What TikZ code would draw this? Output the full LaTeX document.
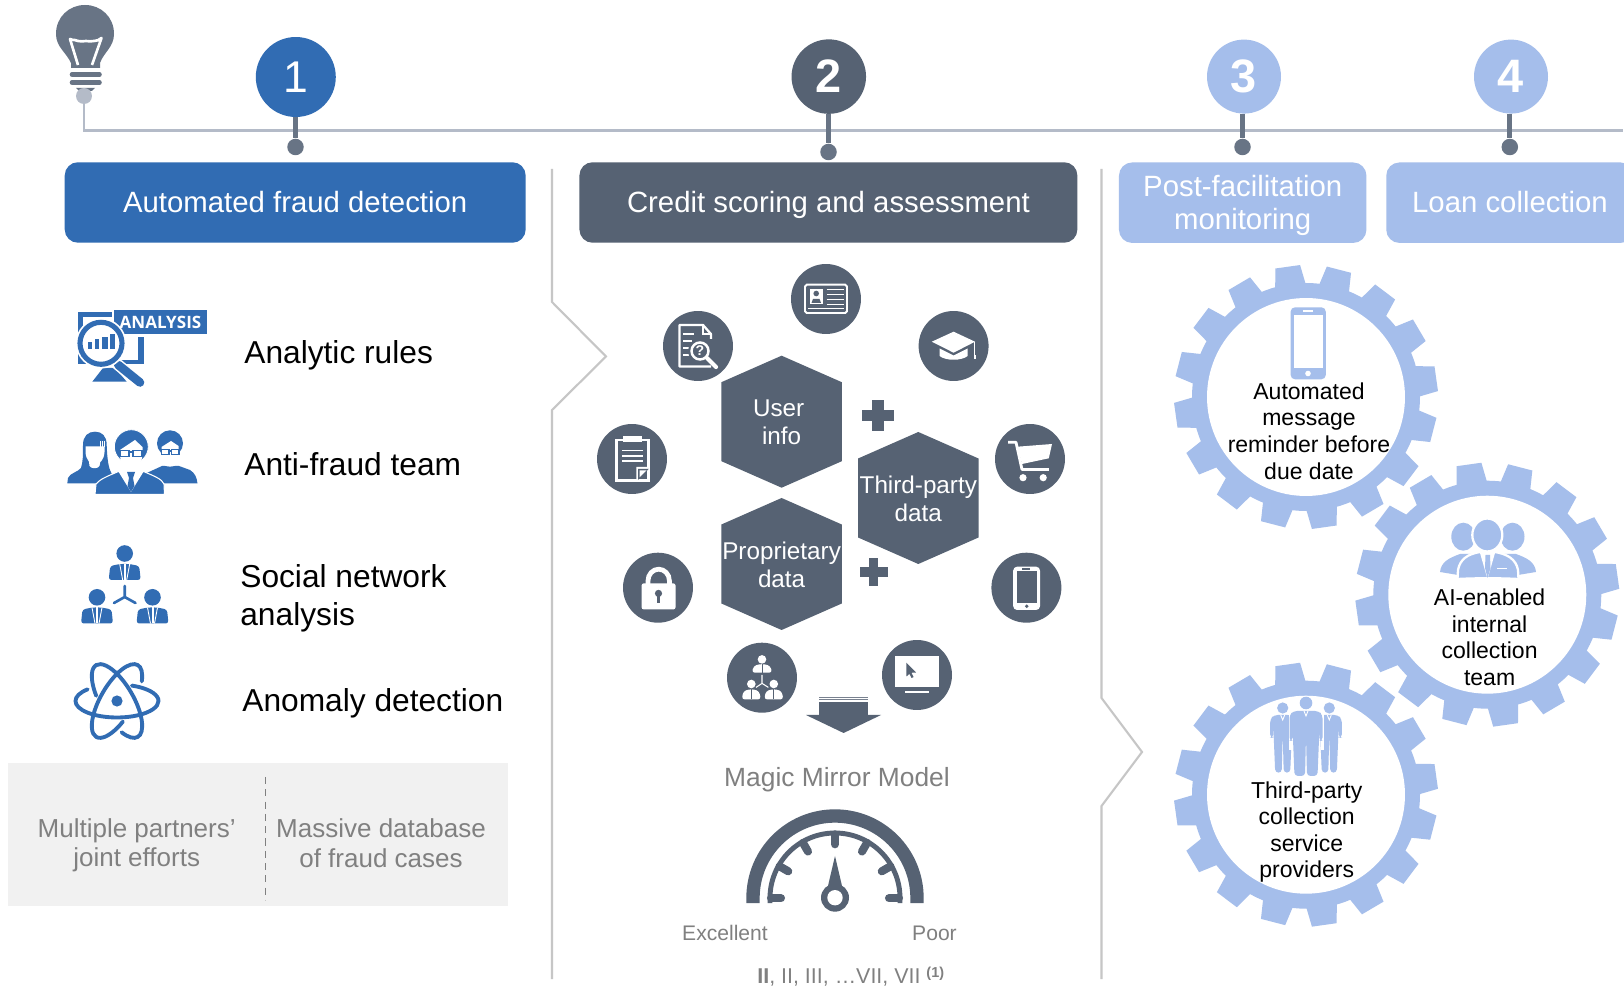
\documentclass[tikz,border=0pt]{standalone}
\usepackage{fontspec}
\setmainfont{Liberation Sans}
\newfontfamily\opensansbf[Scale=1]{Open Sans}
\usetikzlibrary{calc}
\definecolor{cblue}{HTML}{316CB3}
\definecolor{cdark}{HTML}{566273}
\definecolor{clight}{HTML}{A5BEEB}
\definecolor{cstem}{HTML}{687485}
\definecolor{cline}{HTML}{B4BBC8}
\definecolor{cgrey}{HTML}{808080}
\definecolor{cbox}{HTML}{F1F1F1}
\definecolor{cvert}{HTML}{C6C6C6}
\newcommand\fs[2]{\fontsize{#1}{#2}\selectfont}
\tikzset{
  numc/.style={circle,inner sep=0pt,text=white},
  pindot/.style={circle,fill=cstem,minimum size=0.33cm,inner sep=0pt},
  stemline/.style={draw=cstem,line width=2.9pt},
  hdr/.style={rectangle,rounded corners=7.5pt,inner sep=0pt,text=white,align=center,minimum height=1.61cm,font=\fs{16.7}{19}},
  hdrone/.style={hdr,text height=11.6pt,text depth=0pt},
  item/.style={anchor=base west,inner sep=0pt,font=\fs{18.05}{21.2},text=black,align=left},
  greytxt/.style={inner sep=0pt,align=center,text=cgrey,font=\fs{14.8}{16.8}},
  hextxt/.style={inner sep=0pt,align=center,text=white,font=\fs{13.8}{16}},
  geartxt/.style={inner sep=0pt,align=center,text=black,font=\fs{13.1}{15.1}},
  iconc/.style={circle,fill=cdark,minimum size=1.4cm,inner sep=0pt},
  wline/.style={draw=white,line width=1.1pt},
  vrule/.style={draw=cvert,line width=1.2pt},
}
% white or blue business person seen as bust
\newcommand\orgman[7]{% cx, head cy, r, top, bottom, halfwidth, colour
  \fill[#7] (#1,#2) circle[radius=#3];
  \fill[#7,rounded corners=1.6pt] ({#1-#6},#5) -- ({#1-#6+1.5},{#4+2}) -- ({#1-#6*0.3},#4) -- ({#1+#6*0.3},#4) -- ({#1+#6-1.5},{#4+2}) -- ({#1+#6},#5) -- cycle;
}
\newcommand\gearwheel[3]{% name, cx, cy
  \fill[clight] (#2,#3) circle[radius=114];
  \foreach \k in {0,...,15}{
    \pgfmathsetmacro\tang{98+22.5*\k}
    \begin{scope}[shift={(#2,#3)},rotate=\tang]
      \fill[clight] (111,-15.5) -- (131.5,-12.5) -- (131.5,12.5) -- (111,15.5) -- cycle;
    \end{scope}
  }
  \node[circle,fill=white,minimum size=3.96cm,inner sep=0pt] (#1) at (#2,#3) {};
}
\newcommand\hexa[4]{% name, cx, cy, text
  \fill[cdark] (#2,{#3-66}) -- ({#2+60.2},{#3-39.5}) -- ({#2+60.2},{#3+39.5}) -- (#2,{#3+66}) -- ({#2-60.2},{#3+39.5}) -- ({#2-60.2},{#3-39.5}) -- cycle;
  \node[hextxt] (#1) at (#2,{#3+1}) {#4};
}
\newcommand\suitman[7]{% cx, head cy, r, shoulder y, leg bottom, halfwidth, hip y
  \fill[clight] (#1,#2) circle[radius=#3];
  \fill[clight,rounded corners=2pt] ({#1-#6},#7) -- ({#1-#6},{#4+4}) -- ({#1-#6+4},#4) -- ({#1+#6-4},#4) -- ({#1+#6},{#4+4}) -- ({#1+#6},#7) -- ({#1+#6-3},#7) -- ({#1+#6-3},{#7-14}) -- ({#1+#6-5},#5) -- ({#1+1},#5) -- (#1,{#7-5}) -- ({#1-1},#5) -- ({#1-#6+5},#5) -- ({#1-#6+3},{#7-14}) -- ({#1-#6+3},#7) -- cycle;
  \draw[white,line width=0.5pt] ({#1-2},#4) -- (#1,{#4+5}) -- ({#1+2},#4);
}
\begin{document}
\begin{tikzpicture}[x=0.02cm,y=-0.02cm]
\clip (0,0) rectangle (1624,989);
\fill[white] (0,0) rectangle (1624,989);

% ---------- separators
\coordinate (va) at (552,169); \coordinate (vb) at (552,302); \coordinate (vc) at (606,356.5);
\coordinate (vd) at (552,410); \coordinate (ve) at (552,979);
\draw[vrule] (va) -- (vb) -- (vc) -- (vd) -- (ve);
\coordinate (wa) at (1101.5,169); \coordinate (wb) at (1101.5,698); \coordinate (wc) at (1142,752);
\coordinate (wd) at (1101.5,806); \coordinate (we) at (1101.5,979);
\draw[vrule] (wa) -- (wb) -- (wc) -- (wd) -- (we);

% ---------- bulb
\fill[cstem] (71,68) -- (71,63) .. controls (66,52) and (56,47) .. (56,34) .. controls (56,17) and (69,5) .. (85,5) .. controls (101,5) and (114,17) .. (114,34) .. controls (114,47) and (104,52) .. (100,63) -- (100,68) -- cycle;
\draw[white,line width=1.5pt,line join=round] (78,65) -- (70,39) .. controls (74,41) and (76,39) .. (78,41) .. controls (81,43) and (83,40) .. (86,41) .. controls (89,43) and (91,40) .. (94,41) .. controls (97,41) and (99,40) .. (101.5,38) -- (92,65);
\draw[cstem,line width=2.6pt,line cap=round] (72,74.5) -- (99.5,74.5);
\draw[cstem,line width=2.6pt,line cap=round] (72,82.5) -- (99.5,82.5);
\fill[cstem] (76,88) -- (95,88) -- (92,91) -- (79,91) -- cycle;

% ---------- timeline
\node[circle,fill=cline,minimum size=0.32cm,inner sep=0pt] (tl0) at (84,96) {};
\coordinate (tlc) at (84,130.5);
\coordinate (tle) at (1623,130.5);
\draw[cline,line width=1.7pt] (tl0) -- (tlc) -- (tle);

% ---------- numbered pins
\node[numc,fill=cblue,minimum size=1.6cm,font=\fs{25.3}{26}] (c1) at (295.8,77) {1};
\node[numc,fill=cdark,minimum size=1.49cm,font=\bfseries\fs{26.7}{27}] (c2) at (828.8,76.6) {2};
\node[numc,fill=clight,minimum size=1.48cm,font=\bfseries\fs{26.7}{27}] (c3) at (1244,76.6) {3};
\node[numc,fill=clight,minimum size=1.48cm,font=\bfseries\fs{26.7}{27}] (c4) at (1511,76.6) {4};
\node[pindot] (d1) at (295.5,147) {};
\node[pindot] (d2) at (828.5,152) {};
\node[pindot] (d3) at (1242.5,147) {};
\node[pindot] (d4) at (1509.8,147) {};
\draw[stemline] (d1 |- c1.south) -- (d1);
\draw[stemline] (d2 |- c2.south) -- (d2);
\draw[stemline] (d3 |- c3.south) -- (d3);
\draw[stemline] (d4 |- c4.south) -- (d4);

% ---------- headers
\node[hdrone,fill=cblue,minimum width=9.22cm] (h1) at (295.2,202.5) {Automated fraud detection};
\node[hdrone,fill=cdark,minimum width=9.96cm] (h2) at (828.4,202.5) {Credit scoring and assessment};
\node[hdr,fill=clight,minimum width=4.95cm] (h3) at (1242.7,202.7) {\rule{0pt}{15.3pt}Post-facilitation\\monitoring};
\node[hdrone,fill=clight,minimum width=4.95cm] (h4) at (1510,202.7) {Loan collection};

% ---------- analysis icon
\fill[cblue] (78.3,311.7) rectangle (111.7,364);
\fill[cblue] (111.7,336.7) rectangle (144,364);
\fill[white] (83.3,316.7) rectangle (138.3,360);
\fill[white] (111.7,311.7) rectangle (114.3,336.7);
\fill[cblue] (138.3,336.7) rectangle (144,364);
\fill[cblue] (92.3,381.7) -- (103,368) -- (115,368) -- (126.7,381.7) -- cycle;
\node[fill=cblue,inner sep=0pt,minimum width=1.85cm,minimum height=0.48cm,text=white,font=\opensansbf\bfseries\fs{9.7}{10}] (anl) at (160.5,322) {ANALYSIS};
\draw[white,line width=6.6pt,line cap=round] (116,363) -- (141,384);
\draw[cblue,line width=4.9pt,line cap=round] (118.3,365) -- (140,382.5);
\fill[white] (101,343.3) circle[radius=25.3];
\draw[cblue,line width=2.9pt] (101,343.3) circle[radius=21];
\fill[cblue] (87.7,342.3) rectangle (92.3,349.3);
\fill[cblue] (94.7,339.3) rectangle (99.3,349.3);
\fill[cblue] (101.7,336.7) rectangle (107.7,349.3);
\fill[cblue] (110,334.3) rectangle (115,349.3);
\node[item] (t1) at (244,363.7) {Analytic rules};

% ---------- team icon
% woman
\fill[cblue] (67.3,483.5) -- (68,478) .. controls (70,473) and (78,472) .. (81,468) .. controls (83,462) and (83,455) .. (83,445) .. controls (83,436) and (88,431.7) .. (95,431.7) .. controls (102,431.7) and (106.7,436) .. (106.7,445) .. controls (107,455) and (108,465) .. (110,470) -- (116,483.5) -- cycle;
\fill[white] (85.5,446.5) -- (104.5,446.5) -- (104.5,452) .. controls (104,460) and (100,464) .. (95,464) .. controls (90,464) and (86,460) .. (85.5,452) -- cycle;
\fill[white] (88.5,458) -- (89.5,466) .. controls (91,469) and (98,469) .. (99.5,466) -- (101,458) -- cycle;
\draw[white,line width=0.4pt] (100,441) -- (100,447) (102,441) -- (102,447) (104,441) -- (104,447);
% right man
\fill[cblue] (146.7,473) -- (162,466) -- (179,466) -- (190,470) .. controls (195,473) and (197,478) .. (197.5,483.5) -- (150,483.5) -- cycle;
\fill[cblue] (170,443.3) circle[radius=13];
\fill[white] (161.5,447) -- (171,441) -- (178.5,446) -- (178.5,453) .. controls (178,460) and (174,463.5) .. (170,463.5) .. controls (166,463.5) and (162,460) .. (161.5,453) -- cycle;
\fill[white] (164,460) -- (176,460) -- (175,465.5) .. controls (172,467) and (168,467) .. (165,465.5) -- cycle;
\draw[cblue,line width=0.7pt] (161.5,449.5) rectangle (169,454.5) (171.5,449.5) rectangle (179,454.5) (169,451) -- (171.5,451);
% centre man
\fill[cblue,draw=white,line width=0.5pt] (131.3,446.7) circle[radius=17];
\fill[white] (120,450) -- (135,440) -- (142.5,447) -- (142.5,456) .. controls (141,464) and (136,468.5) .. (131,468.5) .. controls (126,468.5) and (121,464) .. (120,456) -- cycle;
\draw[cblue,line width=0.9pt] (120,450.5) rectangle (129,456.5) (133,450.5) rectangle (142,456.5) (129,452) -- (133,452);
\fill[cblue,draw=white,line width=0.6pt] (95,494.3) -- (96,484) .. controls (100,479) and (108,476) .. (118,471.7) -- (144,471.7) .. controls (154,476) and (162,479) .. (164,484) -- (164.5,494.3) -- cycle;
\fill[white] (118.5,471.7) -- (131,492) -- (143.5,471.7) -- cycle;
\fill[cblue] (127,472) -- (135,472) -- (133,478) -- (134.5,486) -- (131,492) -- (127.5,486) -- (129,478) -- cycle;
\node[item] (t2) at (244,476) {Anti-fraud team};

% ---------- social network icon
\orgman{124.7}{553.5}{8.3}{564}{580}{16}{cblue}
\orgman{97}{597.3}{8.3}{607.5}{623.5}{16}{cblue}
\orgman{152.5}{597.3}{8.3}{607.5}{623.5}{16}{cblue}
\foreach \q/\r in {124.7/564,97/607.5,152.5/607.5}{\fill[white] (\q-1,\r) -- (\q+1,\r) -- (\q+1,\r+16) -- (\q-1,\r+16) -- cycle;
 \draw[white,line width=0.5pt] (\q-5,\r) -- (\q-2,\r+16) (\q+5,\r) -- (\q+2,\r+16);}
\draw[cblue,line width=1.5pt,line cap=round] (124.7,586) -- (124.7,597) (124.7,597) -- (114,603) (124.7,597) -- (135.5,603);
\node[item,anchor=north west,yshift=-0.1cm] (t3) at (240,559.5) {Social network\\analysis};

% ---------- atom icon
\fill[cblue] (117,701) circle[radius=5.6];
\foreach \rr in {0,120,240}{
  \begin{scope}[shift={(117,701)},rotate=\rr]
    \draw[cblue,line width=2.2pt,line cap=round] (-135:41.5 and 16.5) arc[start angle=-135,end angle=-429,x radius=41.5,y radius=16.5];
  \end{scope}
}
\node[item] (t4) at (242,711.7) {Anomaly detection};

% ---------- grey box
\fill[cbox] (8,763) rectangle (508,906);
\coordinate (da) at (265.5,777); \coordinate (db) at (265.5,900);
\draw[cgrey,line width=0.9pt,dash pattern=on 4pt off 3pt] (da) -- (db);
\node[greytxt] (g1) at (136.7,845.3) {Multiple partners’\\joint efforts};
\node[greytxt] (g2) at (381,843) {Massive database\\of fraud cases};

% ---------- hexagons
\hexa{hx1}{781.6}{421.7}{\mbox{User\hspace{3.4pt}}\\info}
\hexa{hx2}{781.6}{564}{Proprietary\\data}
\hexa{hx3}{918.3}{498}{Third-party\\data}
\fill[cdark] (872.3,400) rectangle (883.7,431.5);
\fill[cdark] (862,410) rectangle (894,421.5);
\fill[cdark] (869,558) rectangle (878.2,586);
\fill[cdark] (859.6,567.5) rectangle (887.6,577);

% ---------- icon circles
\node[iconc] (ic1) at (826,299) {};
\begin{scope}[shift={(ic1)}]
  \draw[wline,rounded corners=1pt] (-21,-14.3) rectangle (21,14);
  \fill[white] (-16.5,-10.3) rectangle (-3.2,4.7);
  \fill[cdark] (-9.8,-5.5) circle[radius=2.8];
  \fill[cdark] (-14.5,3.8) -- (-13,0) -- (-6.5,0) -- (-5,3.8) -- cycle;
  \foreach \l in {-9.3,-4.3,0.7,5.7}{\draw[white,line width=0.7pt] (0.7,\l) -- (17.5,\l);}
  \draw[white,line width=0.7pt] (-18,9.5) -- (17.5,9.5);
\end{scope}
\node[iconc] (ic2) at (698,346) {};
\begin{scope}[shift={(ic2)}]
  \draw[white,line width=1.3pt,line join=round] (-16,20.5) -- (-18.6,20.5) -- (-18.6,-21) -- (5,-21) -- (12.9,-12) -- (12.9,-7) (-18.6,20.5) -- (13,20.5);
  \draw[white,line width=0.7pt] (5,-21) -- (5,-12) -- (12.9,-12);
  \foreach \l/\m in {-12/-4,-5/-6,2/-8,9/-8}{\draw[white,line width=1.3pt] (-15,\l) -- (\m,\l);}
  \fill[cdark] (2,5) circle[radius=12];
  \draw[white,line width=1.4pt] (2,5) circle[radius=8.5];
  \draw[white,line width=2.4pt,line cap=round] (9,12) -- (18,21);
  \node[inner sep=0pt,text=white,font=\bfseries\fs{8}{9}] (qm) at (2,5) {?};
\end{scope}
\node[iconc] (ic3) at (953.6,346) {};
\begin{scope}[shift={(ic3)}]
  \fill[white] (0,-14.3) -- (21.4,-4.3) -- (0,6.7) -- (-21.8,-4.3) -- cycle;
  \fill[white] (-14,2.5) -- (0,9.5) -- (14,2.5) -- (14,10) .. controls (8,15) and (-8,15) .. (-14,10) -- cycle;
  \draw[white,line width=0.7pt] (21,-4) -- (21,9);
  \fill[white] (20,9) rectangle (22,13);
\end{scope}
\node[iconc] (ic4) at (632,459) {};
\begin{scope}[shift={(ic4)}]
  \draw[white,line width=1.6pt] (-15.6,-19) rectangle (16.7,21.3);
  \fill[white] (-9.5,-22.5) rectangle (9.5,-17);
  \foreach \l in {-8.3,-3,2}{\draw[white,line width=0.9pt] (-10,\l) -- (10.7,\l);}
  \fill[white] (17.5,8) -- (4.3,22) -- (4.3,8) -- cycle;
  \fill[cdark] (16.9,9.8) -- (6,9.8) -- (6,21) -- cycle;
  \fill[white] (7.5,11.3) -- (14.5,11.3) -- (7.5,18.5) -- cycle;
\end{scope}
\node[iconc] (ic5) at (1030,459) {};
\begin{scope}[shift={(ic5)}]
  \draw[white,line width=1.6pt,line join=round] (-21.8,-16.7) -- (-14,-16.7) -- (-8,10.5) -- (18.8,10.5);
  \fill[white] (-12.3,-12.3) -- (22,-15) -- (18.8,-0.7) -- (-8,5) -- cycle;
  \fill[white] (-7,18.7) circle[radius=3.6];
  \fill[white] (13.2,18.7) circle[radius=3.6];
\end{scope}
\node[iconc] (ic6) at (658,587.7) {};
\begin{scope}[shift={(ic6)}]
  \draw[white,line width=2.7pt] (-10,-3) -- (-10,-7) arc[start angle=180,end angle=360,x radius=10.7,y radius=11.5] -- (11.4,-3);
  \fill[white,rounded corners=1.2pt] (-16.4,-4.3) rectangle (17.5,21.7);
  \fill[cdark] (0.5,5.7) circle[radius=3.6];
  \fill[cdark] (-1.3,6) rectangle (2.3,15.7);
\end{scope}
\node[iconc] (ic7) at (1026.4,587.7) {};
\begin{scope}[shift={(ic7)}]
  \fill[white,rounded corners=2.2pt] (-13.2,-21) rectangle (13.6,22.3);
  \fill[cdark] (-9.6,-16.5) rectangle (10.7,15);
  \fill[cdark] (-4,-19.3) rectangle (4,-18);
  \fill[cdark] (0.3,18.6) circle[radius=1.9];
\end{scope}
\node[iconc] (ic8) at (762,677.7) {};
\begin{scope}[shift={(ic8)}]
  \orgman{0}{-18.3}{4.3}{-13.5}{-5}{10}{white}
  \orgman{-10.7}{6.3}{4.3}{11.7}{21.7}{9.5}{white}
  \orgman{11.8}{6.3}{4.3}{11.7}{21.7}{9.5}{white}
  \draw[cdark,line width=0.5pt] (0,-13.5) -- (0,-5) (-10.7,11.7) -- (-10.7,21.7) (11.8,11.7) -- (11.8,21.7);
  \draw[white,line width=0.6pt] (0,-2.7) -- (0,5.7) -- (-6,9.7) (0,5.7) -- (6.4,9.7);
\end{scope}
\node[iconc] (ic9) at (917,675) {};
\begin{scope}[shift={(ic9)}]
  \fill[white] (-22.5,-19.3) rectangle (22,11.7);
  \fill[white] (-11.8,15.7) rectangle (11.8,18.3);
  \fill[cdark] (-10.7,-12.3) -- (-1,-2.5) -- (-5.5,-2.2) -- (-3.5,2) -- (-5.5,3) -- (-7.5,-1.2) -- (-10.5,1.5) -- cycle;
\end{scope}

% ---------- big down arrow
\fill[cdark!80] (819,697) rectangle (868,698);
\fill[cdark!80] (819,699.5) rectangle (868,700.5);
\fill[cdark] (819,702) rectangle (868,716);
\fill[cdark] (881,715) -- (843.6,733) -- (806,715) -- cycle;
\node[inner sep=0pt,text=cgrey,font=\fs{15}{17}] (mm) at (837,780) {Magic Mirror Model};

% ---------- gauge
\draw[cdark,line width=7.6pt] (753,903) -- (753,898) arc[start angle=180,end angle=360,radius=82] -- (917,903);
\draw[cdark,line width=2.8pt] (770,903) -- (770,898) arc[start angle=180,end angle=360,radius=65] -- (900,903);
\foreach \a in {0,-30,-60,-90,-120,-150,-180}{
  \draw[cdark,line width=4.6pt,line cap=round] ($(835,898.3)+(\a:64)$) -- ($(835,898.3)+(\a:54)$);
}
\fill[cdark] (835,856) -- (827.5,888) -- (842.5,888) -- cycle;
\fill[cdark] (835,897.7) circle[radius=14];
\fill[white] (835,897.7) circle[radius=7.7];
\node[inner sep=0pt,text=cgrey,font=\fs{12}{14}] (ex) at (725,933) {Excellent};
\node[inner sep=0pt,text=cgrey,font=\fs{12}{14}] (po) at (934.5,933) {Poor};
\node[anchor=base west,inner sep=0pt,text=cgrey,font=\fs{12.2}{14}] (rom) at (757,983) {{\bfseries II}, II, III, …VII, VII {\raisebox{3pt}{\bfseries\fs{8.2}{9}(1)}}};

% ---------- gears
\gearwheel{g1c}{1306}{397}
\gearwheel{g2c}{1487.3}{594.7}
\gearwheel{g3c}{1306}{794.7}

% phone
\fill[clight,rounded corners=2.5pt] (1290.6,307.3) rectangle (1325.8,379.3);
\fill[white] (1293.8,315) rectangle (1323,368);
\draw[white,line width=0.6pt] (1303,311) -- (1313,311);
\fill[white] (1308,373.5) circle[radius=2.8];
\node[geartxt] (gt1) at (1309,431) {Automated\\message\\reminder before\\due date};

% managers
\fill[clight] (1463.3,536.7) ellipse[x radius=12,y radius=14];
\fill[clight] (1512.5,536.7) ellipse[x radius=12,y radius=14];
\fill[clight] (1440,572) .. controls (1441,562) and (1449,558) .. (1460,554) -- (1516,554) .. controls (1527,558) and (1535,562) .. (1536,572) -- (1518,575) -- (1458,575) -- cycle;
\fill[clight,draw=white,line width=1.3pt] (1487.3,535) ellipse[x radius=15,y radius=16.5];
\fill[clight,draw=white,line width=1.3pt] (1457.5,579) -- (1458,570) .. controls (1460,559) and (1468,554) .. (1480,552) -- (1495,552) .. controls (1507,554) and (1516,559) .. (1518,570) -- (1518.5,579) .. controls (1498,578) and (1478,578) .. (1457.5,579) -- cycle;
\fill[white] (1480,553) -- (1487.5,579) -- (1495,553) -- cycle;
\fill[clight] (1485.5,555) -- (1490,555) -- (1490.5,568) -- (1487.5,578) -- (1485,568) -- cycle;
\draw[white,line width=0.7pt] (1497,568.5) -- (1507,568.5);
\node[geartxt] (gt2) at (1489.6,637.5) {AI-enabled\\internal\\collection\\team};

% third-party people
\suitman{1282.7}{708}{5.6}{715}{772.7}{12.5}{738}
\suitman{1329.3}{708}{5.6}{715}{772.7}{12.5}{738}
\draw[white,line width=2pt] (1290.3,715) -- (1290.3,750) (1322.7,715) -- (1322.7,750);
\suitman{1306}{703}{6.3}{711}{776}{16.5}{741}
\node[geartxt] (gt3) at (1306.7,832) {Third-party\\collection\\service\\providers};
\end{tikzpicture}
\end{document}
